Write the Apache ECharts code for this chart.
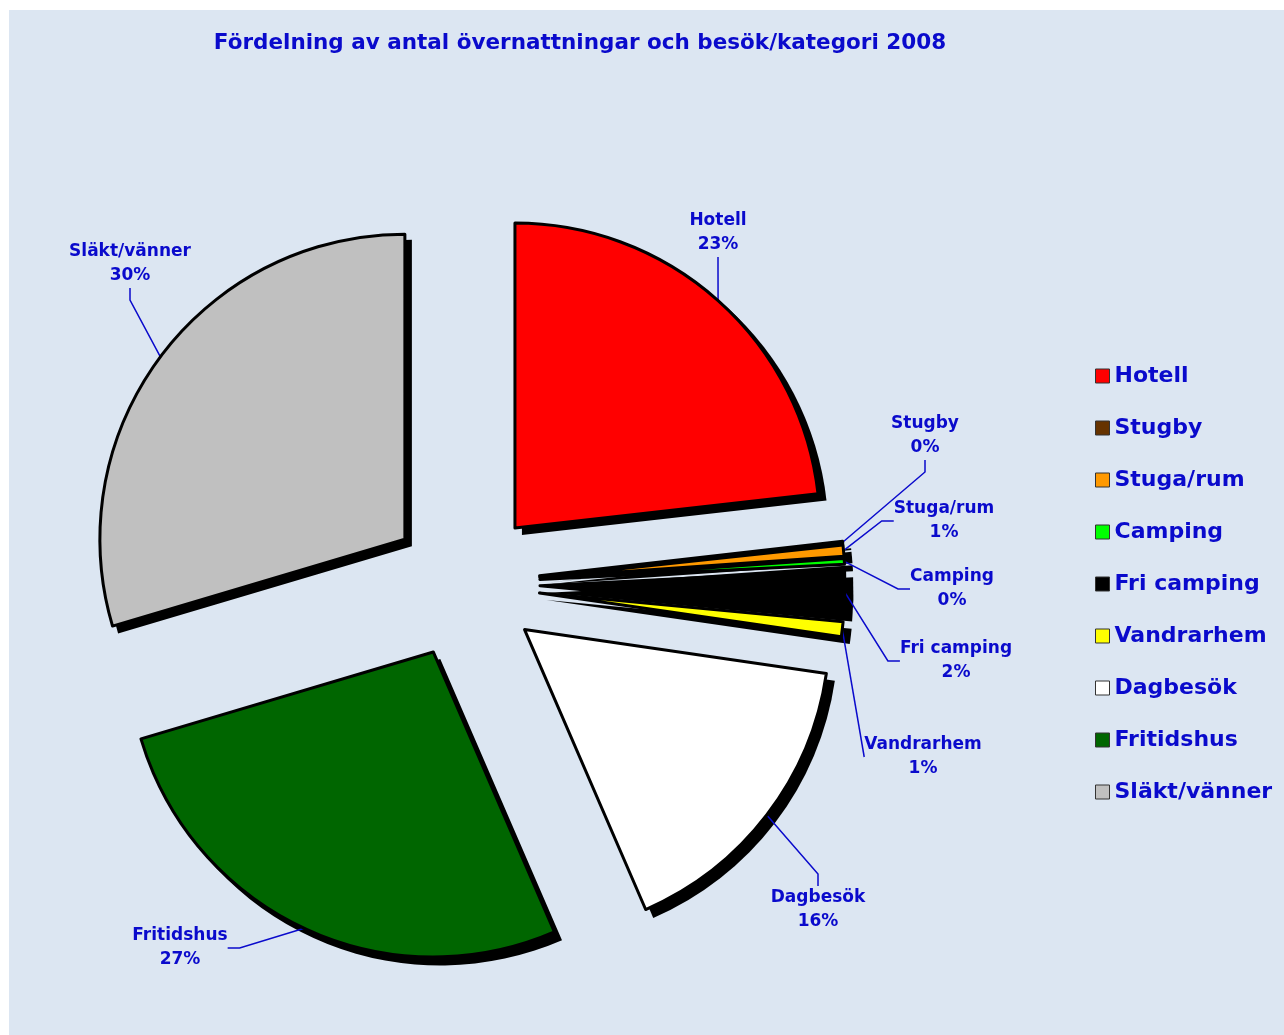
<!DOCTYPE html>
<html><head><meta charset="utf-8">
<script src="https://cdn.jsdelivr.net/npm/echarts@6/dist/echarts.min.js"></script>
<style>html,body{margin:0;padding:0;background:#fff}#c{width:1284px;height:1035px}</style>
</head><body><div id="c"></div>
<script>
const titleText = 'Fördelning av antal övernattningar och besök/kategori 2008';
const categories = ['Hotell','Stugby','Stuga/rum','Camping','Fri camping','Vandrarhem','Dagbesök','Fritidshus','Släkt/vänner'];
const shares = [23.2, 0.1, 0.6, 0.3, 2.3, 0.8, 16.2, 26.9, 29.6];
const colors = ['#FF0000','#663300','#FF9900','#00FF00','#000000','#FFFF00','#FFFFFF','#006600','#C0C0C0'];
const labelPos = [[718,233],[925,436],[944,521],[952,589],[956,661],[923,757],[818,910],[180,948],[130,264]];
const guideTail = [12,12,12,12,12,0,12,12,12];
const blue = '#0A0ACC';
const font = 'DejaVu Sans';
const pieCenter = [465,584], pieRadius = 305, explode = 75, shadowOffset = 7;

const total = shares.reduce((a,b)=>a+b,0);
const hidden = {color:'rgba(0,0,0,0)', borderWidth:0};
const series = [];
let cum = 0;
categories.forEach((name,i)=>{
  const start = 90 - cum/total*360;
  const span = shares[i]/total*360;
  const mid = (start - span/2)*Math.PI/180;
  cum += shares[i];
  const cx = pieCenter[0]+explode*Math.cos(mid), cy = pieCenter[1]-explode*Math.sin(mid);
  // drop shadow copy
  series.push({
    type:'pie', startAngle:start, clockwise:true, radius:pieRadius+1.5, z:1,
    center:[cx+shadowOffset, cy+shadowOffset], silent:true, emphasis:{disabled:true},
    label:{show:false}, labelLine:{show:false},
    data:[{name:'', value:shares[i], itemStyle:{color:'#000', borderWidth:0}},
          {name:'', value:total-shares[i], itemStyle:hidden}]
  });
  // slice
  series.push({
    type:'pie', name:name, startAngle:start, clockwise:true, radius:pieRadius, z:2,
    center:[cx, cy], avoidLabelOverlap:false, emphasis:{disabled:true}, silent:true,
    itemStyle:{borderColor:'#000', borderWidth:3},
    label:{show:true, position:'outside', formatter:p=>p.name+'\n'+Math.round(p.percent)+'%',
      color:blue, fontFamily:font, fontSize:17, fontWeight:'bold', lineHeight:24, align:'center'},
    labelLine:{show:true, length:10, length2:guideTail[i], lineStyle:{color:blue, width:1.5}},
    labelLayout:p=>p.dataIndex===0?{x:labelPos[i][0], y:labelPos[i][1], align:'center', verticalAlign:'middle'}:{},
    data:[
      {name:name, value:shares[i], itemStyle:{color:colors[i]}},
      {name:'', value:total-shares[i], itemStyle:hidden, label:{show:false}, labelLine:{show:false}}
    ]
  });
});

const chart = echarts.init(document.getElementById('c'), null, {renderer:'canvas'});
chart.setOption({
  animation:false,
  backgroundColor:'#ffffff',
  graphic:[{type:'rect', silent:true, z:-10, shape:{x:9,y:10,width:1275,height:1025}, style:{fill:'#DCE6F2'}}],
  title:{text:titleText, left:575, top:27, textAlign:'center',
    textStyle:{color:blue, fontFamily:font, fontSize:21.5, fontWeight:'bold'}},
  legend:{orient:'vertical', left:1090, top:356, itemWidth:14, itemHeight:14, itemGap:22, icon:'rect', selectedMode:false,
    data:categories.map((n,i)=>({name:n, itemStyle:{color:colors[i], borderColor:'#333', borderWidth:1}})),
    textStyle:{color:blue, fontFamily:font, fontSize:22, fontWeight:'bold', lineHeight:30}},
  series:series
});
</script></body></html>
